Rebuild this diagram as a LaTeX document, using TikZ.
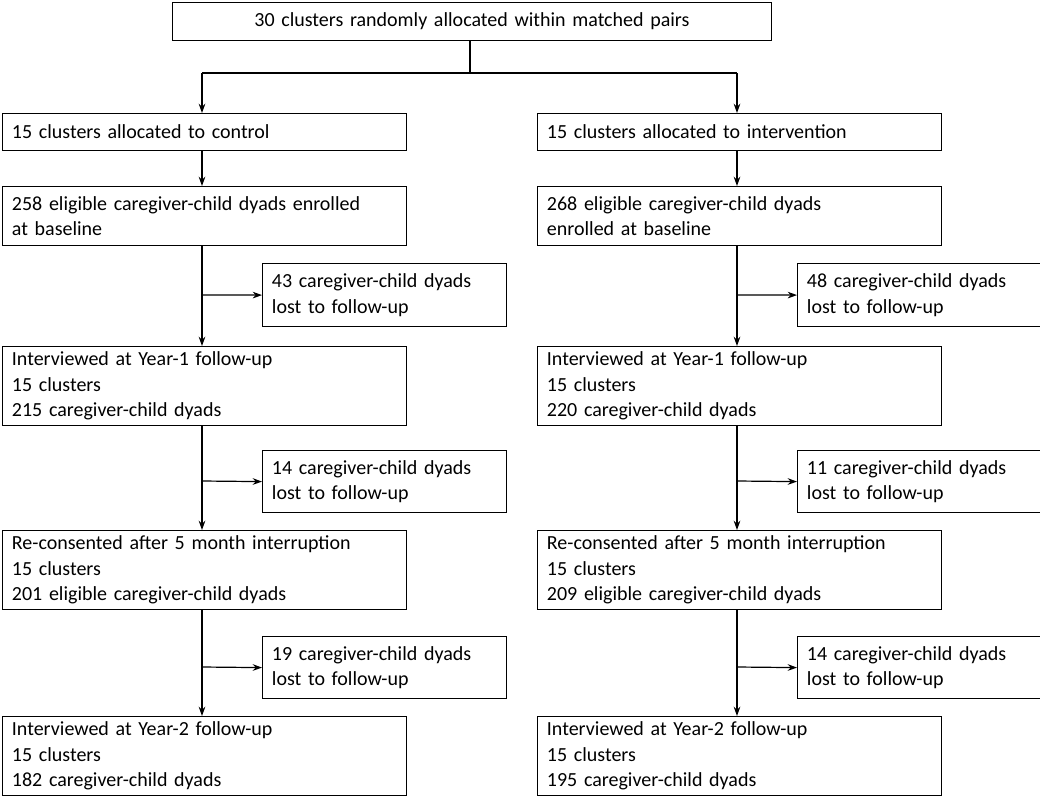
\documentclass[tikz,border=0pt]{standalone}
\usepackage{fontspec}
\setmainfont{Carlito}
\usetikzlibrary{arrows.meta}
\begin{document}
\begin{tikzpicture}[x=0.75pt,y=-0.75pt,
 box/.style={draw,line width=0.9pt,rectangle,anchor=north west,inner xsep=7pt,inner ysep=0pt,align=left,font=\fontsize{15}{19}\selectfont},
 arr/.style={line width=0.9pt,-{Stealth[length=7pt,width=5pt]}},
 ln/.style={line width=0.9pt}]
\useasboundingbox (0,0) rectangle (1040,800);
\node[box,minimum width=595*0.75pt,minimum height=38*0.75pt,align=center,text width=580*0.75pt] (top) at (172,2) {30 clusters randomly allocated within matched pairs};
\newcommand\col[9]{%
 \node[box,minimum width=401*0.75pt,minimum height=37*0.75pt,text width=385*0.75pt] (#1a) at (#2,113) {15 clusters allocated to #3};
 \node[box,minimum width=401*0.75pt,minimum height=59*0.75pt,text width=385*0.75pt] (#1b) at (#2,186) {#4};
 \node[box,minimum width=240*0.75pt,minimum height=63*0.75pt,text width=225*0.75pt] (#1s1) at (#2+260,263) {#5 caregiver-child dyads\\lost to follow-up};
 \node[box,minimum width=401*0.75pt,minimum height=79*0.75pt,text width=385*0.75pt] (#1c) at (#2,346) {Interviewed at Year-1 follow-up\\15 clusters\\#6 caregiver-child dyads};
 \node[box,minimum width=240*0.75pt,minimum height=62*0.75pt,text width=225*0.75pt] (#1s2) at (#2+260,450) {#7 caregiver-child dyads\\lost to follow-up};
 \node[box,minimum width=401*0.75pt,minimum height=79*0.75pt,text width=385*0.75pt] (#1d) at (#2,530) {Re-consented after 5 month interruption\\15 clusters\\#8 eligible caregiver-child dyads};
 \node[box,minimum width=240*0.75pt,minimum height=62*0.75pt,text width=225*0.75pt] (#1s3) at (#2+260,636) {#9 caregiver-child dyads\\lost to follow-up};
}
\col{L}{2}{control}{258 eligible caregiver-child dyads enrolled\\at baseline}{43}{215}{14}{201}{19}
\node[box,minimum width=401*0.75pt,minimum height=79*0.75pt,text width=385*0.75pt] (Le) at (2,716) {Interviewed at Year-2 follow-up\\15 clusters\\182 caregiver-child dyads};
\col{R}{537}{intervention}{268 eligible caregiver-child dyads\\enrolled at baseline}{48}{220}{11}{209}{14}
\node[box,minimum width=401*0.75pt,minimum height=79*0.75pt,text width=385*0.75pt] (Re) at (537,716) {Interviewed at Year-2 follow-up\\15 clusters\\195 caregiver-child dyads};
\coordinate (sp) at (470,73);
\draw[ln] (top.south -| sp) -- (sp);
\draw[ln] (202,73) -- (737,73);
\draw[arr] (202,73) -- (202,113);
\draw[arr] (737,73) -- (737,113);
\foreach \s/\x in {L/202,R/737}{
 \draw[arr] (\x,150) -- (\x,186);
 \draw[arr] (\x,245) -- (\x,346);
 \draw[arr] (\x,425) -- (\x,530);
 \draw[arr] (\x,609) -- (\x,716);
 \draw[arr] (\x,295) -- (\s s1.west);
 \draw[arr] (\x,481) -- (\s s2.west);
 \draw[arr] (\x,667) -- (\s s3.west);
}
\end{tikzpicture}
\end{document}
